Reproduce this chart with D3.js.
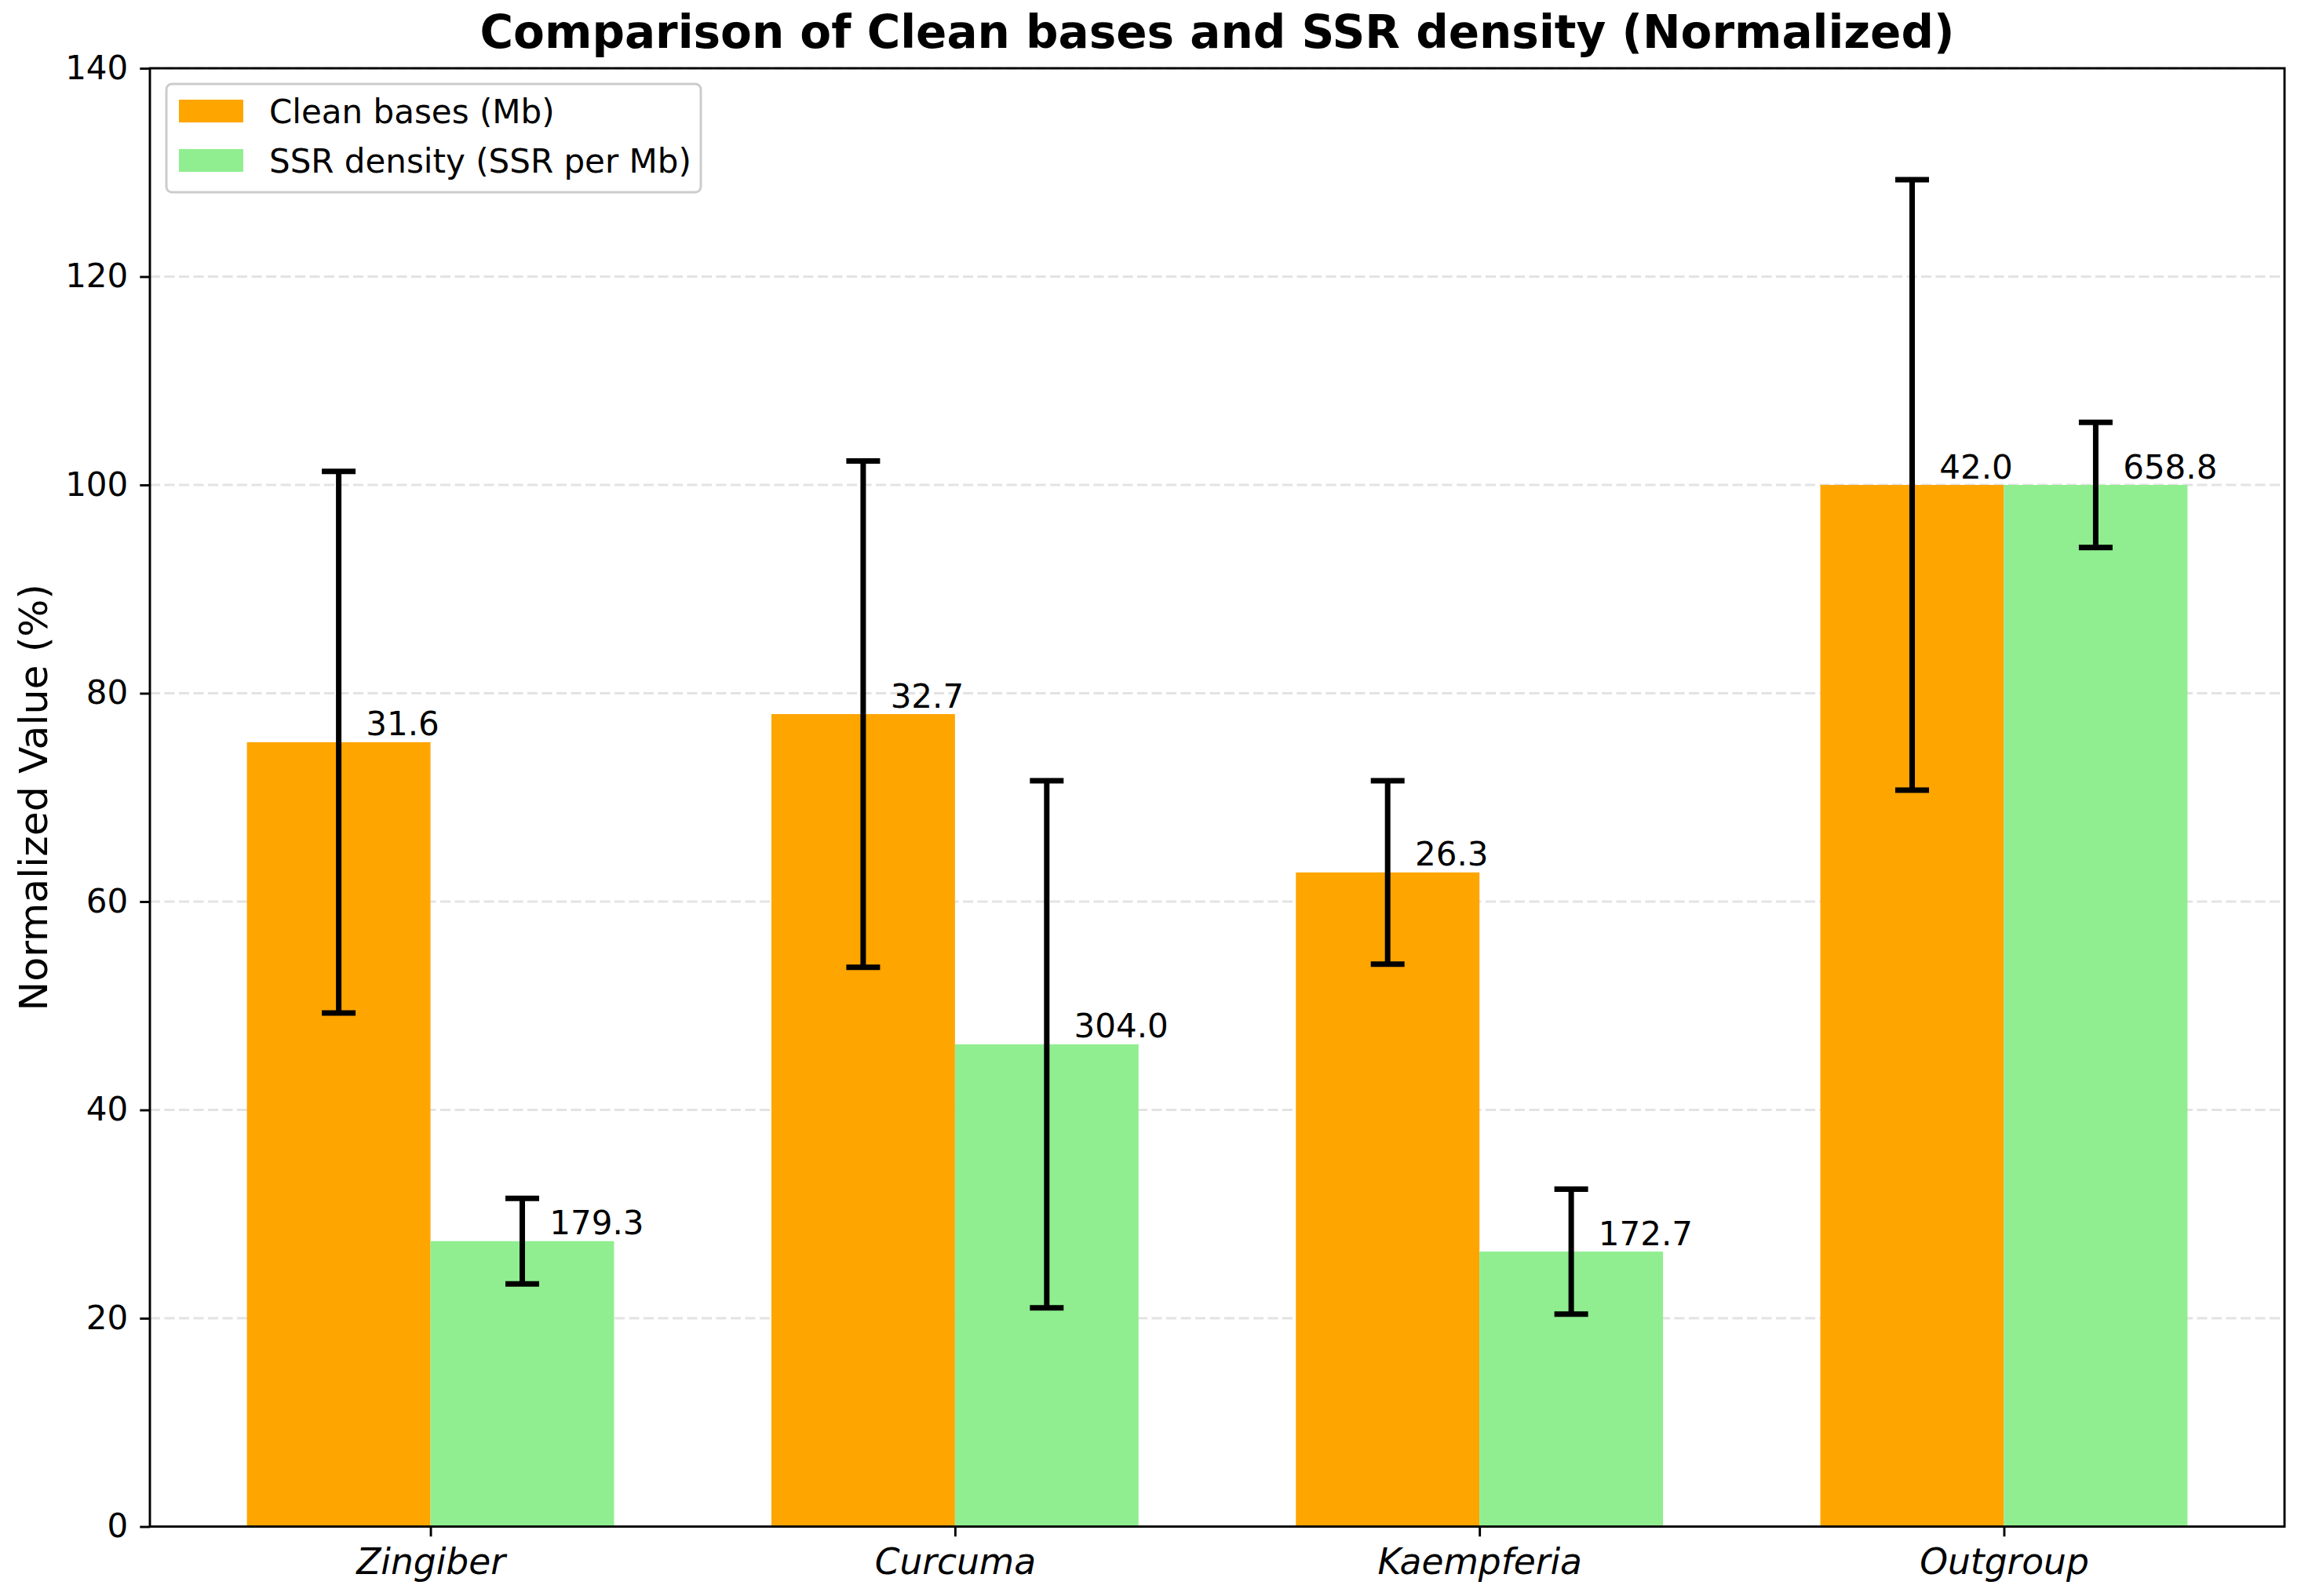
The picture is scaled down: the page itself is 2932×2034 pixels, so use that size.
<!DOCTYPE html>
<html>
<head>
<meta charset="utf-8">
<script src="https://cdn.jsdelivr.net/npm/d3@7"></script>
<style>
  body { margin: 0; background: #fff; }
  text { font-family: "DejaVu Sans", sans-serif; }
</style>
</head>
<body>
<div id="chart"></div>
<script>
// values
var categories = ["Zingiber", "Curcuma", "Kaempferia", "Outgroup"];
var cleanNorm = [75.3, 78.0, 62.8, 100.0];
var ssrNorm = [27.4, 46.3, 26.4, 100.0];
var cleanErr = [26.0, 24.3, 8.8, 29.3];
var ssrErr = [4.1, 25.3, 6.0, 6.0];
var cleanLabels = ["31.6", "32.7", "26.3", "42.0"];
var ssrLabels = ["179.3", "304.0", "172.7", "658.8"];
var yTicks = [0, 20, 40, 60, 80, 100, 120, 140];

var W = 2932, H = 2034;
var margin = {left: 191, right: W - 2911, top: 87, bottom: H - 1945.5};
var barW = 0.35;

var svg = d3.select("#chart").append("svg")
	.attr("width", W)
	.attr("height", H)
	.style("background", "#fff");

var x = d3.scaleLinear().domain([-0.535, 3.535]).range([margin.left, W - margin.right]);
var y = d3.scaleLinear().domain([0, 140]).range([H - margin.bottom, margin.top]);

// grid
svg.append("g").selectAll("line")
	.data(yTicks)
	.enter().append("line")
	.attr("x1", x.range()[0]).attr("x2", x.range()[1])
	.attr("y1", function(d) { return y(d); })
	.attr("y2", function(d) { return y(d); })
	.attr("stroke", "#e3e3e3")
	.attr("stroke-width", 3)
	.attr("stroke-dasharray", "13,5.5");

var series = [
	{vals: cleanNorm, err: cleanErr, labels: cleanLabels, color: "#FFA500", off: -barW / 2, name: "Clean bases (Mb)"},
	{vals: ssrNorm, err: ssrErr, labels: ssrLabels, color: "#90EE90", off: barW / 2, name: "SSR density (SSR per Mb)"}
];

series.forEach(function(s) {
	var g = svg.append("g");
	g.selectAll("rect")
		.data(s.vals)
		.enter().append("rect")
		.attr("x", function(d, i) { return x(i + s.off - barW / 2); })
		.attr("width", x(barW) - x(0))
		.attr("y", function(d) { return y(d); })
		.attr("height", function(d) { return y(0) - y(d); })
		.attr("fill", s.color);
});

// error bars on top of both series
series.forEach(function(s) {
	var g = svg.append("g");
	s.vals.forEach(function(v, i) {
		var cx = x(i + s.off);
		var lo = y(v - s.err[i]), hi = y(v + s.err[i]);
		g.append("line").attr("x1", cx).attr("x2", cx).attr("y1", lo).attr("y2", hi)
			.attr("stroke", "#000").attr("stroke-width", 7);
		[lo, hi].forEach(function(yy) {
			g.append("line").attr("x1", cx - 21.5).attr("x2", cx + 21.5).attr("y1", yy).attr("y2", yy)
				.attr("stroke", "#000").attr("stroke-width", 7);
		});
	});
});

// value labels
series.forEach(function(s) {
	svg.append("g").selectAll("text")
		.data(s.vals)
		.enter().append("text")
		.attr("x", function(d, i) { return x(i + s.off + 0.052); })
		.attr("y", function(d) { return y(d) - 8.5; })
		.attr("font-size", 42)
		.attr("fill", "#000")
		.text(function(d, i) { return s.labels[i]; });
});

// axes
var yAxis = d3.axisLeft(y).tickValues(yTicks).tickSize(12.7).tickPadding(15);
var gy = svg.append("g").attr("transform", "translate(" + margin.left + ",0)").call(yAxis);
gy.selectAll("text").attr("font-size", 42).attr("font-family", "DejaVu Sans").attr("fill", "#000");
gy.selectAll("line").attr("stroke-width", 2.9);
gy.select(".domain").remove();

var xAxis = d3.axisBottom(x).tickValues([0, 1, 2, 3]).tickSize(12.7).tickPadding(15)
	.tickFormat(function(d) { return categories[d]; });
var gx = svg.append("g").attr("transform", "translate(0," + y(0) + ")").call(xAxis);
gx.selectAll("text").attr("font-size", 45.5).attr("font-style", "italic")
	.attr("font-family", "DejaVu Sans").attr("fill", "#000");
gx.selectAll("line").attr("stroke-width", 2.9);
gx.select(".domain").remove();

// frame
svg.append("rect")
	.attr("x", x.range()[0]).attr("y", y.range()[1])
	.attr("width", x.range()[1] - x.range()[0])
	.attr("height", y.range()[0] - y.range()[1])
	.attr("fill", "none").attr("stroke", "#000").attr("stroke-width", 2.9);

// title + y label
svg.append("text")
	.attr("x", (x.range()[0] + x.range()[1]) / 2)
	.attr("y", 61)
	.attr("text-anchor", "middle")
	.attr("font-size", 58)
	.attr("font-weight", "bold")
	.text("Comparison of Clean bases and SSR density (Normalized)");

svg.append("text")
	.attr("transform", "translate(60," + (y.range()[0] + y.range()[1]) / 2 + ") rotate(-90)")
	.attr("text-anchor", "middle")
	.attr("font-size", 50.5)
	.text("Normalized Value (%)");

// legend
var lg = svg.append("g").attr("transform", "translate(212,107)");
lg.append("rect")
	.attr("width", 681).attr("height", 138).attr("rx", 7)
	.attr("fill", "#fff").attr("fill-opacity", 0.8)
	.attr("stroke", "#cccccc").attr("stroke-width", 3);
series.forEach(function(s, i) {
	lg.append("rect").attr("x", 16).attr("y", 20 + i * 63).attr("width", 82).attr("height", 29)
		.attr("fill", s.color);
	lg.append("text").attr("x", 131).attr("y", 34.5 + i * 63).attr("dy", "0.36em")
		.attr("font-size", 42).text(s.name);
});
</script>
</body>
</html>
